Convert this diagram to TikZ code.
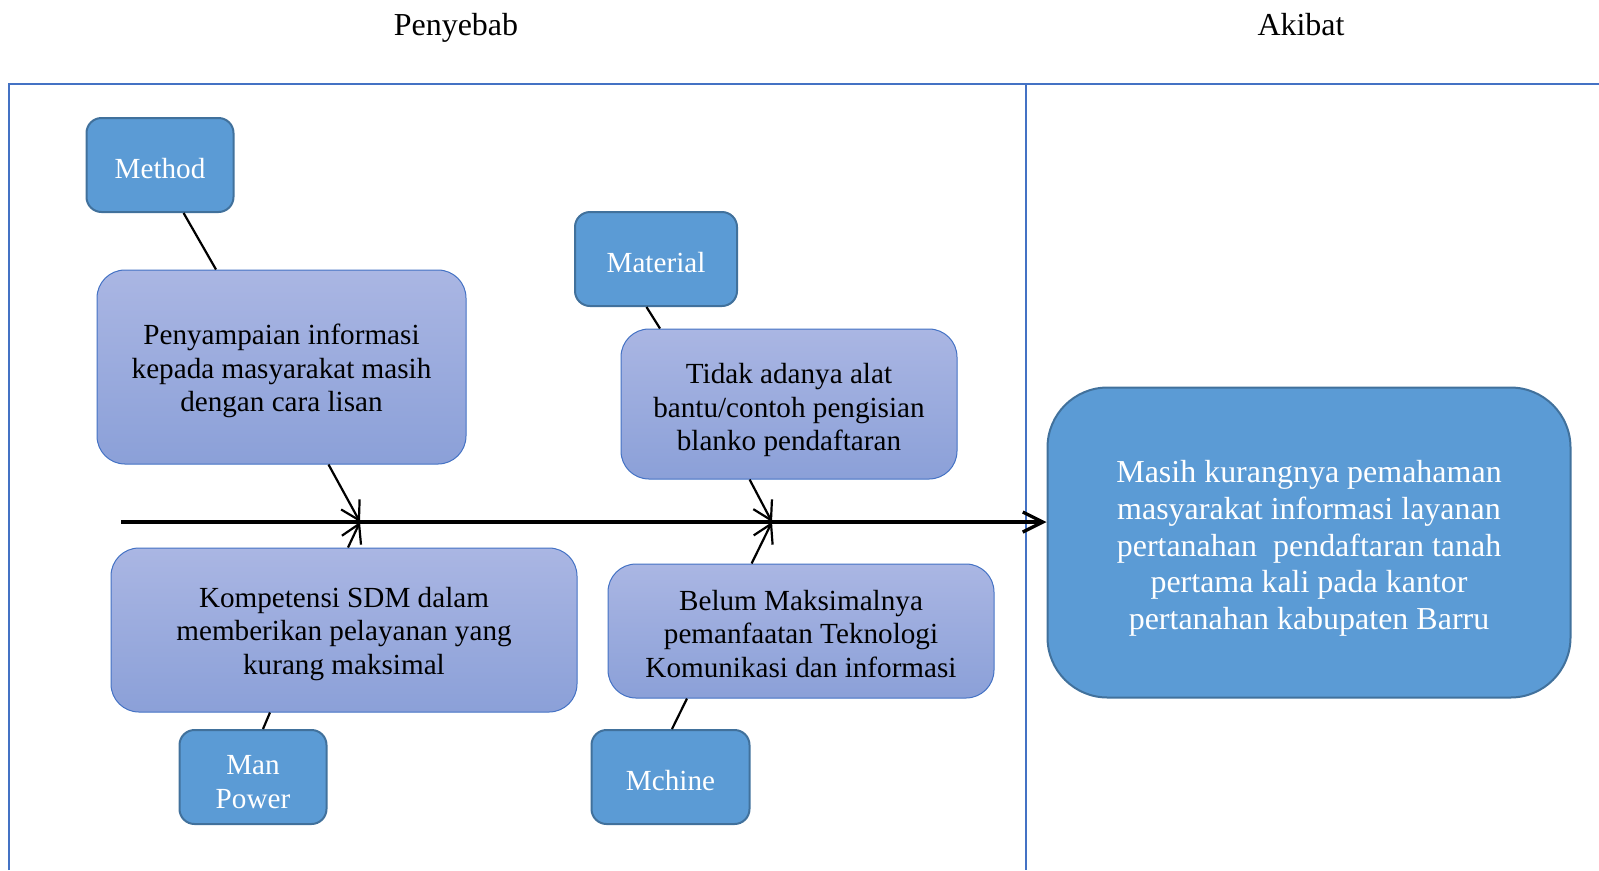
\documentclass[tikz,border=0pt]{standalone}
\usepackage{fontspec}
\setmainfont{Liberation Serif}
\usetikzlibrary{arrows.meta}
\newcommand{\unitpx}{0.02cm}
\definecolor{causeblue}{RGB}{91,155,213}
\definecolor{causeedge}{RGB}{65,113,156}
\definecolor{frameblue}{RGB}{68,114,196}
\definecolor{gradtop}{RGB}{170,182,227}
\definecolor{gradbot}{RGB}{139,160,216}

\begin{document}
\begin{tikzpicture}
\useasboundingbox (0,0) rectangle (1599*\unitpx,-870*\unitpx);
\tikzstyle{category}=[draw=causeedge,
			line width=2*\unitpx,
			fill=causeblue,
			rounded corners=15*\unitpx,
			inner sep=0pt,
			minimum height=94*\unitpx
			]
\tikzstyle{cause}=[draw=frameblue,
			line width=1*\unitpx,
			top color=gradtop,
			bottom color=gradbot,
			rounded corners=28*\unitpx,
			inner sep=0pt
			]
\tikzstyle{boxtext}=[align=center,
			inner sep=0pt,
			font=\fontsize{16.6}{19.2}\selectfont
			]
\tikzstyle{branch}=[line width=1.25pt]
\tikzstyle{spine}=[line width=1.9pt]
\tikzstyle{frame}=[draw=frameblue, line width=2.7*\unitpx]


\draw[frame] (9*\unitpx,-870*\unitpx) -- (9*\unitpx,-84*\unitpx) -- (1599*\unitpx,-84*\unitpx);


\draw[frame] (1026*\unitpx,-84*\unitpx) -- (1026*\unitpx,-870*\unitpx);


\node[font=\fontsize{18.2}{21}\selectfont, anchor=base] (penyebab) at (456*\unitpx,-35*\unitpx) {Penyebab};


\node[font=\fontsize{18.2}{21}\selectfont, anchor=base] (akibat) at (1301*\unitpx,-35*\unitpx) {Akibat};


\node[category, minimum width=147*\unitpx] (method) at (160*\unitpx,-165*\unitpx) {};
\node[boxtext, text=white] at ([yshift=-4*\unitpx]method) {Method};


\node[category, minimum width=162*\unitpx] (material) at (656*\unitpx,-259*\unitpx) {};
\node[boxtext, text=white] at ([yshift=-4*\unitpx]material) {Material};


\node[category, minimum width=147*\unitpx] (manpower) at (253*\unitpx,-777*\unitpx) {};
\node[boxtext, text=white] at ([yshift=-5*\unitpx]manpower) {Man\\Power};


\node[category, minimum width=158*\unitpx] (mchine) at (670.5*\unitpx,-777*\unitpx) {};
\node[boxtext, text=white] at ([yshift=-4*\unitpx]mchine) {Mchine};


\node[cause, minimum width=369*\unitpx, minimum height=194*\unitpx] (penyampaian) at (281.5*\unitpx,-367*\unitpx) {};
\node[boxtext] at ([yshift=-4*\unitpx]penyampaian)
	{Penyampaian informasi\\kepada masyarakat masih\\dengan cara lisan};


\node[cause, minimum width=336*\unitpx, minimum height=150*\unitpx] (tidak) at (789*\unitpx,-404*\unitpx) {};
\node[boxtext] at ([yshift=-6*\unitpx]tidak)
	{Tidak adanya alat\\bantu/contoh pengisian\\blanko pendaftaran};


\node[cause, minimum width=466*\unitpx, minimum height=164*\unitpx] (kompetensi) at (344*\unitpx,-630*\unitpx) {};
\node[boxtext] at ([yshift=-4*\unitpx]kompetensi)
	{Kompetensi SDM dalam\\memberikan pelayanan yang\\kurang maksimal};


\node[cause, minimum width=386*\unitpx, minimum height=134*\unitpx] (belum) at (801*\unitpx,-631*\unitpx) {};
\node[boxtext] at ([yshift=-3*\unitpx]belum)
	{Belum Maksimalnya\\pemanfaatan Teknologi\\Komunikasi dan informasi};


\node[category, minimum width=523*\unitpx, minimum height=310*\unitpx, rounded corners=60*\unitpx] (effect) at (1309*\unitpx,-542.5*\unitpx) {};
\node[boxtext, text=white, font=\fontsize{18.2}{20.9}\selectfont] at ([yshift=-6*\unitpx]effect)
	{Masih kurangnya pemahaman\\masyarakat informasi layanan\\pertanahan~ pendaftaran tanah\\pertama kali pada kantor\\pertanahan kabupaten Barru};


\coordinate (tail) at (121*\unitpx,-522*\unitpx);
\coordinate (j1) at (360*\unitpx,-522*\unitpx);
\coordinate (j2) at (772*\unitpx,-522*\unitpx);


\draw[spine, -{Straight Barb[length=11.4pt, width=11.4pt]}] (tail) -- (tail -| effect.west);


\draw[branch] ([xshift=23.6*\unitpx]method.south) -- ([xshift=-65.5*\unitpx]penyampaian.north);


\draw[branch, -{Straight Barb[length=10.2pt, width=12pt]}] ([xshift=47*\unitpx]penyampaian.south) -- (j1);


\draw[branch, -{Straight Barb[length=10.2pt, width=12pt]}] ([xshift=4*\unitpx]kompetensi.north) -- (j1);


\draw[branch] ([xshift=10*\unitpx]manpower.north) -- ([xshift=-74*\unitpx]kompetensi.south);


\draw[branch] ([xshift=-9.5*\unitpx]material.south) -- ([xshift=-129*\unitpx]tidak.north);


\draw[branch, -{Straight Barb[length=10.2pt, width=12pt]}] ([xshift=-39.4*\unitpx]tidak.south) -- (j2);


\draw[branch, -{Straight Barb[length=10.2pt, width=12pt]}] ([xshift=-49.4*\unitpx]belum.north) -- (j2);


\draw[branch] ([xshift=-114*\unitpx]belum.south) -- ([xshift=1.5*\unitpx]mchine.north);


\end{tikzpicture}
\end{document}
